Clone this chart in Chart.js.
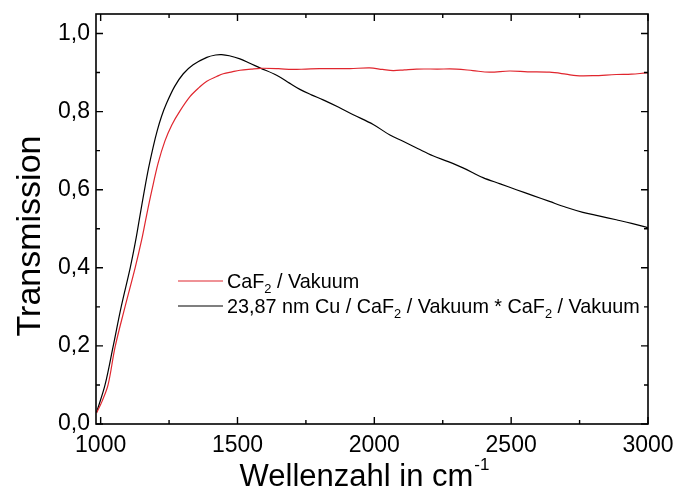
<!DOCTYPE html>
<html>
<head>
<meta charset="utf-8">
<script src="https://cdn.jsdelivr.net/npm/chart.js@4/dist/chart.umd.min.js"></script>
<style>
  html, body { margin: 0; padding: 0; background: #fff; }
  #wrap { width: 675px; height: 493px; }
</style>
</head>
<body>
<div id="wrap"><canvas id="c" width="675" height="493"></canvas></div>
<script>
// Transmission spectra, wavenumber in cm^-1
const caf2X = [985, 1005, 1027, 1053, 1089, 1126, 1150, 1168, 1187, 1210, 1235, 1260, 1290, 1327, 1360, 1388, 1424, 1448, 1480, 1509, 1550, 1584, 1650, 1700, 1750, 1800, 1860, 1911, 1983, 2030, 2069, 2110, 2154, 2230, 2300, 2360, 2421, 2494, 2560, 2640, 2700, 2738, 2800, 2884, 2940, 2993, 3000];
const caf2Y = [0.028, 0.058, 0.100, 0.198, 0.300, 0.400, 0.472, 0.535, 0.598, 0.668, 0.725, 0.766, 0.802, 0.839, 0.862, 0.878, 0.890, 0.897, 0.902, 0.906, 0.909, 0.911, 0.910, 0.908, 0.909, 0.910, 0.910, 0.910, 0.912, 0.908, 0.905, 0.907, 0.909, 0.909, 0.909, 0.905, 0.901, 0.904, 0.902, 0.901, 0.896, 0.892, 0.892, 0.895, 0.896, 0.899, 0.899];

const cuX = [985, 1016, 1046, 1075, 1108, 1128, 1144, 1159, 1175, 1192, 1207, 1222, 1240, 1270, 1302, 1338, 1388, 1420, 1442, 1470, 1509, 1545, 1582, 1643, 1690, 1728, 1770, 1813, 1870, 1923, 1996, 2057, 2105, 2160, 2214, 2270, 2324, 2397, 2460, 2519, 2580, 2640, 2700, 2762, 2820, 2884, 2940, 2993, 3000];
const cuY = [0.030, 0.100, 0.200, 0.300, 0.400, 0.470, 0.535, 0.595, 0.655, 0.710, 0.752, 0.787, 0.820, 0.864, 0.897, 0.920, 0.939, 0.945, 0.946, 0.943, 0.935, 0.924, 0.912, 0.893, 0.873, 0.857, 0.843, 0.830, 0.811, 0.792, 0.767, 0.740, 0.724, 0.705, 0.687, 0.672, 0.656, 0.631, 0.615, 0.600, 0.585, 0.570, 0.555, 0.542, 0.533, 0.523, 0.514, 0.504, 0.502];

const seriesLabels = ['CaF_2 / Vakuum', '23,87 nm Cu / CaF_2 / Vakuum * CaF_2 / Vakuum'];
const seriesColors = ['#e0262e', '#000000'];

const xTicks = [1000, 1500, 2000, 2500, 3000];
const xMinorTicks = [1250, 1750, 2250, 2750];
const yTicks = [0, 0.2, 0.4, 0.6, 0.8, 1.0];
const yMinorTicks = [0.1, 0.3, 0.5, 0.7, 0.9];

const FONT = '"Liberation Sans", Arial, Helvetica, sans-serif';

function points(xs, ys) {
  return xs.map((x, i) => ({ x: x, y: ys[i] }));
}

// Text with "_N" subscripts
function drawRich(ctx, str, x, y, size) {
  const parts = str.split(/_(\d)/);
  let cx = x;
  parts.forEach((p, i) => {
    if (i % 2) {
      ctx.font = (size * 0.65) + 'px ' + FONT;
      ctx.fillText(p, cx, y + size * 0.3);
    } else {
      ctx.font = size + 'px ' + FONT;
      ctx.fillText(p, cx, y);
    }
    cx += ctx.measureText(p).width;
  });
}

// Frame with inward ticks on all four sides, axis titles and legend
const framePlugin = {
  id: 'frame',
  afterDatasetsDraw(chart) {
    const { ctx, chartArea: a, scales } = chart;
    const sx = scales.x, sy = scales.y;
    ctx.save();
    ctx.strokeStyle = '#000';
    ctx.lineWidth = 1.6;
    ctx.strokeRect(a.left, a.top, a.right - a.left, a.bottom - a.top);
    ctx.lineWidth = 1.4;
    ctx.beginPath();
    const tick = (vals, len) => {
      vals.forEach(v => {
        const px = sx.getPixelForValue(v);
        ctx.moveTo(px, a.bottom); ctx.lineTo(px, a.bottom - len);
        ctx.moveTo(px, a.top); ctx.lineTo(px, a.top + len);
      });
    };
    const ytick = (vals, len) => {
      vals.forEach(v => {
        const py = sy.getPixelForValue(v);
        ctx.moveTo(a.left, py); ctx.lineTo(a.left + len, py);
        ctx.moveTo(a.right, py); ctx.lineTo(a.right - len, py);
      });
    };
    tick(xTicks, 7); tick(xMinorTicks, 4);
    ytick(yTicks, 7); ytick(yMinorTicks, 4);
    ctx.stroke();
    ctx.restore();
  },
  afterDraw(chart) {
    const { ctx, chartArea: a } = chart;
    ctx.save();
    ctx.fillStyle = '#000';
    // y axis title
    ctx.save();
    ctx.translate(40, (a.top + a.bottom) / 2 + 17);
    ctx.rotate(-Math.PI / 2);
    ctx.font = '34px ' + FONT;
    ctx.textAlign = 'center';
    ctx.textBaseline = 'alphabetic';
    ctx.fillText('Transmission', 0, 0);
    ctx.restore();
    // x axis title with superscript
    ctx.textAlign = 'left';
    ctx.textBaseline = 'alphabetic';
    const main = 'Wellenzahl in cm', sup = '-1';
    ctx.font = '31px ' + FONT;
    const wMain = ctx.measureText(main).width;
    ctx.font = '17px ' + FONT;
    const wSup = ctx.measureText(sup).width;
    const x0 = (a.left + a.right) / 2 - (wMain + wSup) / 2 - 8;
    ctx.font = '31px ' + FONT;
    ctx.fillText(main, x0, 486);
    ctx.font = '17px ' + FONT;
    ctx.fillText(sup, x0 + wMain + 1, 470);
    // legend
    chart.data.datasets.forEach((ds, i) => {
      const ly = 281 + i * 25;
      ctx.strokeStyle = ds.borderColor;
      ctx.lineWidth = 1.2;
      ctx.beginPath();
      ctx.moveTo(178, ly); ctx.lineTo(223, ly);
      ctx.stroke();
      ctx.fillStyle = '#000';
      drawRich(ctx, ds.label, 227, ly + 6.5, 19.8);
    });
    ctx.restore();
  }
};

new Chart(document.getElementById('c'), {
  type: 'scatter',
  data: {
    datasets: [
      { label: seriesLabels[0], data: points(caf2X, caf2Y), borderColor: seriesColors[0], borderWidth: 1.2, showLine: true, pointRadius: 0, tension: 0.35 },
      { label: seriesLabels[1], data: points(cuX, cuY), borderColor: seriesColors[1], borderWidth: 1.2, showLine: true, pointRadius: 0, tension: 0.35 }
    ]
  },
  options: {
    responsive: false,
    animation: false,
    layout: { padding: { left: 0, top: 14, right: 27, bottom: 0 } },
    plugins: { legend: { display: false }, tooltip: { enabled: false } },
    scales: {
      x: {
        type: 'linear', min: 983, max: 3000,
        grid: { display: false, drawTicks: false },
        border: { display: false },
        afterBuildTicks: s => { s.ticks = xTicks.map(v => ({ value: v })); },
        afterFit: s => { s.height = 69; s.paddingLeft = 0; s.paddingRight = 0; },
        ticks: { padding: 8, color: '#000', font: { family: FONT, size: 23 }, maxRotation: 0, autoSkip: false, callback: v => String(v) }
      },
      y: {
        type: 'linear', min: 0, max: 1.05,
        grid: { display: false, drawTicks: false },
        border: { display: false },
        afterBuildTicks: s => { s.ticks = yTicks.map(v => ({ value: v })); },
        afterFit: s => { s.width = 96; s.paddingTop = 0; s.paddingBottom = 0; },
        ticks: { padding: 6, color: '#000', font: { family: FONT, size: 23 }, autoSkip: false, callback: v => v.toFixed(1).replace('.', ',') }
      }
    }
  },
  plugins: [framePlugin]
});
</script>
</body>
</html>
